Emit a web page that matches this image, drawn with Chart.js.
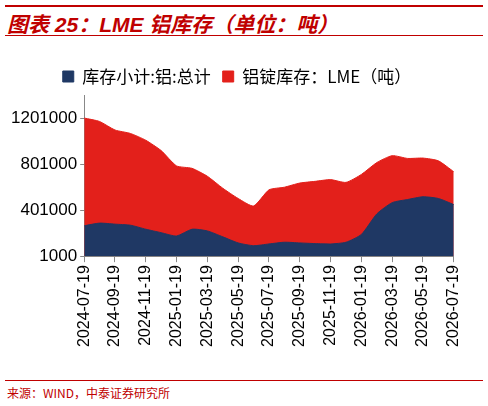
<!DOCTYPE html>
<html>
<head>
<meta charset="utf-8">
<script src="https://cdn.jsdelivr.net/npm/chart.js@4"></script>
<style>
  body { margin: 0; width: 488px; height: 406px; background: #fff; font-family: "Liberation Sans", "Noto Sans CJK SC", sans-serif; position: relative; overflow: hidden; }
  .topline { position: absolute; left: 5px; right: 5px; top: 5px; height: 2px; background: #c00000; }
  .title { position: absolute; left: 7px; top: 8px; font-size: 21px; font-weight: bold; font-style: italic; color: #c00000; font-family: "Liberation Sans", "Noto Sans CJK SC", sans-serif; }
  .subline { position: absolute; left: 5px; right: 5px; top: 35px; height: 1px; background: #c00000; }
  .box { position: absolute; left: 0; top: 56px; width: 476px; height: 294px; }
  .srcline { position: absolute; left: 5px; right: 5px; top: 380px; height: 1px; background: #c00000; }
  .source { position: absolute; left: 7px; top: 384px; font-size: 12px; color: #c00000; font-family: "Noto Sans CJK SC", sans-serif; }
</style>
</head>
<body>
<div class="topline"></div>
<div class="title">图表 25：LME 铝库存（单位：吨）</div>
<div class="subline"></div>
<div class="box"><canvas id="c"></canvas></div>
<div class="srcline"></div>
<div class="source">来源：WIND，中泰证券研究所</div>
<script>
// monthly readings, month 0 = 2024-07-19
const tickLabels = ['2024-07-19','2024-09-19','2024-11-19','2025-01-19','2025-03-19','2025-05-19',
  '2025-07-19','2025-09-19','2025-11-19','2026-01-19','2026-03-19','2026-05-19','2026-07-19'];
const months = [0,1,2,3,4,5,6,7,8,9,10,11,12,13,14,15,16,17,18,19,20,21,22,23,24];
const totalStock = [265000,288000,279000,270000,235000,205000,176000,235000,220000,169000,116000,92000,
  107000,122000,116000,110000,107000,122000,190000,368000,466000,493000,517000,502000,449000];
const lmeStock = [1201000,1171000,1097000,1067000,1008000,918000,785000,764000,695000,591000,502000,437000,
  577000,600000,636000,651000,666000,642000,711000,814000,874000,850000,853000,829000,734000];

const pts = arr => arr.map((v, i) => ({ x: months[i], y: v }));

new Chart(document.getElementById('c'), {
  type: 'line',
  data: {
    datasets: [
      { label: '库存小计:铝:总计', data: pts(totalStock), backgroundColor: '#1f3864', borderColor: '#1f3864', fill: 'origin', pointRadius: 0, borderWidth: 1, tension: 0.2 },
      { label: '铝锭库存：LME（吨）', data: pts(lmeStock), backgroundColor: '#e3201b', borderColor: '#e3201b', fill: 'origin', pointRadius: 0, borderWidth: 1, tension: 0.2 }
    ]
  },
  options: {
    responsive: true,
    maintainAspectRatio: false,
    animation: false,
    layout: { padding: { left: 8, right: 10, top: 0, bottom: 0 } },
    plugins: {
      legend: {
        labels: { boxWidth: 11, boxHeight: 11, color: '#000', font: { size: 17, family: '"Noto Sans CJK SC", sans-serif' }, padding: 12 }
      },
      tooltip: { enabled: false }
    },
    scales: {
      x: {
        type: 'linear', min: 0, max: 24,
        ticks: { stepSize: 2, maxRotation: 90, minRotation: 90, color: '#000', font: { size: 16 },
          callback: v => tickLabels[v / 2] },
        grid: { drawOnChartArea: false, color: '#888', tickLength: 6 },
        border: { color: '#888' }
      },
      y: {
        min: 1000, max: 1401000,
        ticks: { stepSize: 200000, color: '#000', font: { size: 17 }, callback: v => String(v) },
        grid: { drawOnChartArea: false, color: '#888', tickLength: 4 },
        border: { color: '#888' }
      }
    }
  }
});
</script>
</body>
</html>
